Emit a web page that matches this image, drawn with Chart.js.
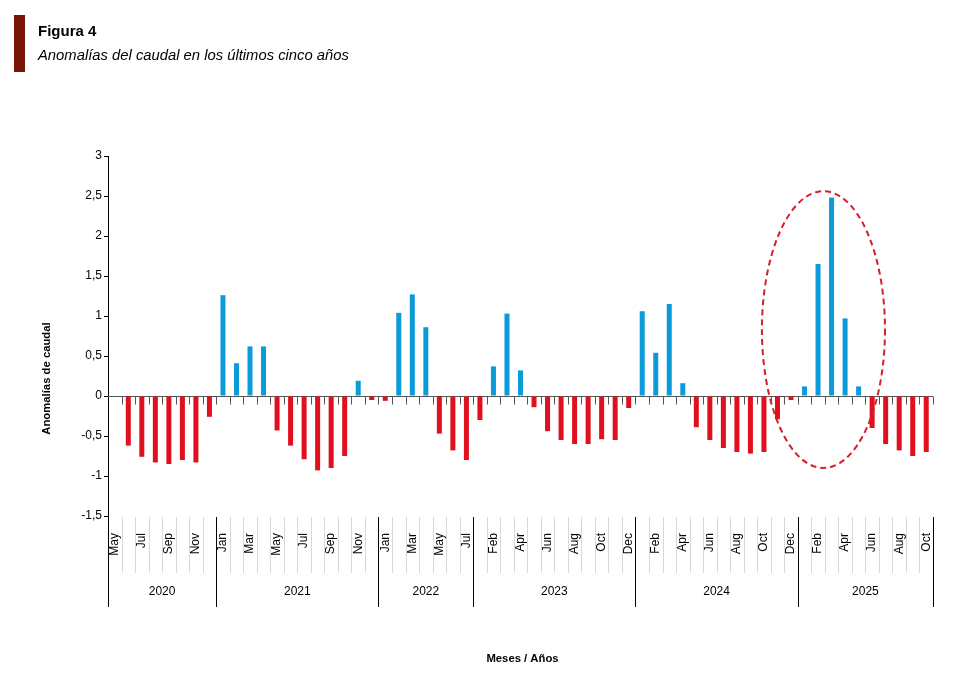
<!DOCTYPE html>
<html>
<head>
<meta charset="utf-8">
<title>Figura 4</title>
<script src="https://cdn.jsdelivr.net/npm/chart.js@4.4.1/dist/chart.umd.min.js"></script>
<style>
    html, body { margin: 0; padding: 0; background: #fff; }
    #wrap { width: 957px; height: 686px; position: relative; }
</style>
</head>
<body>
<div id="wrap"><canvas id="flowChart"></canvas></div>
<script>
// months shown on the axis, May 2020 .. Oct 2025
const monthLabels = [
    'May', 'Jun', 'Jul', 'Aug', 'Sep', 'Oct', 'Nov', 'Dec',
    'Jan', 'Feb', 'Mar', 'Apr', 'May', 'Jun', 'Jul', 'Aug', 'Sep', 'Oct', 'Nov', 'Dec',
    'Jan', 'Feb', 'Mar', 'Apr', 'May', 'Jun', 'Jul',
    'Jan', 'Feb', 'Mar', 'Apr', 'May', 'Jun', 'Jul', 'Aug', 'Sep', 'Oct', 'Nov', 'Dec',
    'Jan', 'Feb', 'Mar', 'Apr', 'May', 'Jun', 'Jul', 'Aug', 'Sep', 'Oct', 'Nov', 'Dec',
    'Jan', 'Feb', 'Mar', 'Apr', 'May', 'Jun', 'Jul', 'Aug', 'Sep', 'Oct'
];
const yearLabels = ['2020', '2021', '2022', '2023', '2024', '2025'];
const monthsPerYear = [8, 12, 7, 12, 12, 10];

const anomalies = [
    null, -0.62, -0.76, -0.83, -0.85, -0.80, -0.83, -0.26,
    1.26, 0.41, 0.62, 0.62, -0.43, -0.62, -0.79, -0.93, -0.90, -0.75, 0.19, -0.05,
    -0.06, 1.04, 1.27, 0.86, -0.47, -0.68, -0.80,
    -0.30, 0.37, 1.03, 0.32, -0.14, -0.44, -0.55, -0.60, -0.60, -0.54, -0.55, -0.15,
    1.06, 0.54, 1.15, 0.16, -0.39, -0.55, -0.65, -0.70, -0.72, -0.70, -0.29, -0.05,
    0.12, 1.65, 2.48, 0.97, 0.12, -0.40, -0.60, -0.68, -0.75, -0.70
];

const yMin = -1.5, yMax = 3, yStep = 0.5;

// dashed ellipse round the 2025 peak (category index / axis units)
const highlight = { center: 52.4, value: 0.83, halfCats: 4.55, halfUnits: 1.73 };

const FONT = '"Liberation Sans", Arial, sans-serif';

function fmt(v) {
    return String(Math.round(v * 10) / 10).replace('.', ',');
}

const decorations = {
    id: 'decorations',
    beforeDatasetsDraw(chart) {
        const ctx = chart.ctx;
        const x = chart.scales.x, y = chart.scales.y;
        const area = chart.chartArea;
        const y0 = Math.round(y.getPixelForValue(0)) + 0.5;

        ctx.save();
        // zero line + tick marks between months
        ctx.strokeStyle = '#555';
        ctx.lineWidth = 1;
        ctx.beginPath();
        ctx.moveTo(area.left, y0);
        ctx.lineTo(area.right, y0);
        for (let i = 1; i <= anomalies.length; i++) {
            const px = Math.round(x.getPixelForValue(i - 0.5)) + 0.5;
            ctx.moveTo(px, y0);
            ctx.lineTo(px, y0 + 8);
        }
        ctx.stroke();
        ctx.restore();
    },
    afterDatasetsDraw(chart) {
        const ctx = chart.ctx;
        const x = chart.scales.x, y = chart.scales.y;
        const area = chart.chartArea;
        const step = x.getPixelForValue(1) - x.getPixelForValue(0);
        const axisBottom = area.bottom + 91;
        const monthRowBottom = area.bottom + 57;

        ctx.save();

        // highlight ellipse
        const cx = x.getPixelForValue(highlight.center);
        const cy = y.getPixelForValue(highlight.value);
        const rx = highlight.halfCats * step;
        const ry = y.getPixelForValue(0) - y.getPixelForValue(highlight.halfUnits);
        ctx.strokeStyle = '#d3202a';
        ctx.lineWidth = 2;
        ctx.setLineDash([6, 4]);
        ctx.beginPath();
        ctx.ellipse(cx, cy, rx, ry, 0, 0, Math.PI * 2);
        ctx.stroke();
        ctx.setLineDash([]);

        // left axis runs down through the category rows
        ctx.strokeStyle = '#000';
        ctx.lineWidth = 1;
        ctx.beginPath();
        ctx.moveTo(area.left + 0.5, area.bottom);
        ctx.lineTo(area.left + 0.5, axisBottom);
        ctx.stroke();

        // light separators between months
        ctx.strokeStyle = '#d9d9d9';
        ctx.beginPath();
        for (let i = 1; i < anomalies.length; i++) {
            const px = Math.round(x.getPixelForValue(i - 0.5)) + 0.5;
            ctx.moveTo(px, area.bottom + 1);
            ctx.lineTo(px, monthRowBottom);
        }
        ctx.stroke();

        // month labels, every other one
        ctx.fillStyle = '#000';
        ctx.font = '12px ' + FONT;
        ctx.textAlign = 'right';
        ctx.textBaseline = 'middle';
        monthLabels.forEach((m, i) => {
            if (i % 2 !== 0) return;
            ctx.save();
            ctx.translate(x.getPixelForValue(i), area.bottom + 17);
            ctx.rotate(-Math.PI / 2);
            ctx.fillText(m, 0, 0);
            ctx.restore();
        });

        // year dividers and labels
        let start = 0;
        ctx.strokeStyle = '#000';
        ctx.textAlign = 'center';
        yearLabels.forEach((yr, k) => {
            const end = start + monthsPerYear[k];
            const px = Math.round(x.getPixelForValue(end - 0.5)) + 0.5;
            ctx.beginPath();
            ctx.moveTo(px, area.bottom + 1);
            ctx.lineTo(px, axisBottom);
            ctx.stroke();
            const mid = (x.getPixelForValue(start - 0.5) + x.getPixelForValue(end - 0.5)) / 2;
            ctx.fillText(yr, mid, area.bottom + 76);
            start = end;
        });

        // axis titles
        ctx.font = 'bold 11.3px ' + FONT;
        ctx.fillText('Meses / Años', (area.left + area.right) / 2 + 2, area.bottom + 143);
        ctx.save();
        ctx.translate(47, (area.top + axisBottom) / 2 - 3);
        ctx.rotate(-Math.PI / 2);
        ctx.fillText('Anomalías de caudal', 0, 0);
        ctx.restore();

        // figure heading
        ctx.fillStyle = '#7a1509';
        ctx.fillRect(14, 15, 11, 57);
        ctx.fillStyle = '#000';
        ctx.textAlign = 'left';
        ctx.textBaseline = 'alphabetic';
        ctx.font = 'bold 15px ' + FONT;
        ctx.fillText('Figura 4', 38, 36);
        ctx.font = 'italic 14.8px ' + FONT;
        ctx.fillText('Anomalías del caudal en los últimos cinco años', 38, 60);

        ctx.restore();
    }
};

const flowCtx = document.getElementById('flowChart').getContext('2d');
const flowChart = new Chart(flowCtx, {
    type: 'bar',
    data: {
        labels: monthLabels,
        datasets: [{
            label: 'Anomalías de caudal',
            data: anomalies,
            backgroundColor: (c) => (c.raw !== null && c.raw >= 0) ? '#0b9bd9' : '#e0101e',
            borderWidth: 0,
            categoryPercentage: 1,
            barPercentage: 0.37
        }]
    },
    options: {
        responsive: true,
        maintainAspectRatio: false,
        animation: false,
        devicePixelRatio: 1,
        layout: {
            padding: { left: 0, top: 156, right: 24, bottom: 170 }
        },
        scales: {
            x: {
                display: false,
                offset: true
            },
            y: {
                min: yMin,
                max: yMax,
                afterFit: (scale) => { scale.width = 108; },
                ticks: {
                    stepSize: yStep,
                    color: '#000',
                    padding: 2,
                    font: { family: FONT, size: 12 },
                    callback: (v) => fmt(v)
                },
                grid: {
                    drawOnChartArea: false,
                    tickLength: 4,
                    tickColor: '#000'
                },
                border: { display: true, color: '#000', width: 1 }
            }
        },
        plugins: {
            legend: { display: false },
            tooltip: { enabled: false }
        }
    },
    plugins: [decorations]
});
</script>
</body>
</html>
